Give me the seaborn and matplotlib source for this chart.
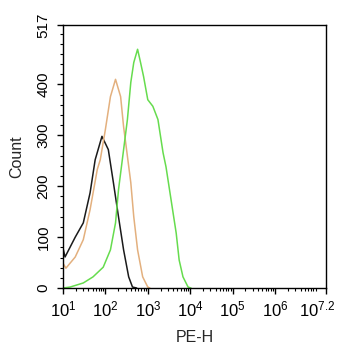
import numpy as np
import pandas as pd
import matplotlib
matplotlib.use('Agg')
import matplotlib.pyplot as plt
import matplotlib.ticker as mticker
import matplotlib.transforms as mtransforms
import seaborn as sns

# log10(PE-H) positions and counts
black_x = [1.0, 1.05, 1.29, 1.48, 1.64, 1.76, 1.92, 2.07, 2.19, 2.31, 2.43, 2.55, 2.64, 2.74]
black_y = [79, 61, 100, 128, 187, 252, 298, 272, 207, 140, 75, 22, 2, 0]

tan_x = [1.0, 1.07, 1.29, 1.48, 1.64, 1.81, 1.88, 2.0, 2.12, 2.24, 2.36, 2.43, 2.5, 2.6, 2.67, 2.76, 2.88, 3.0, 3.05]
tan_y = [49, 39, 61, 95, 154, 233, 252, 311, 376, 410, 376, 317, 272, 207, 140, 75, 22, 2, 0]

green_x = [1.0, 1.17, 1.48, 1.71, 1.95, 2.12, 2.24, 2.31, 2.40, 2.52, 2.6, 2.67, 2.76, 2.83,
           2.9, 3.0, 3.12, 3.24, 3.36, 3.43, 3.55, 3.67, 3.74, 3.83, 3.95, 4.02]
green_y = [0, 2, 10, 22, 41, 75, 128, 193, 252, 331, 404, 443, 469, 443,
           416, 370, 357, 331, 266, 238, 173, 108, 55, 22, 2, 0]

y_ticks = [0, 100, 200, 300, 400, 517]
x_tick_exp = [1, 2, 3, 4, 5, 6, 7.2]
x_tick_labels = ['$10^{1}$', '$10^{2}$', '$10^{3}$', '$10^{4}$', '$10^{5}$', '$10^{6}$', '$10^{7.2}$']

sns.set_style('ticks')
plt.rcParams['font.family'] = ['Liberation Sans', 'DejaVu Sans']
plt.rcParams['mathtext.fontset'] = 'custom'
plt.rcParams['mathtext.rm'] = 'Liberation Sans'
plt.rcParams['mathtext.it'] = 'Liberation Sans'

frames = []
for name, xs, ys in [('black', black_x, black_y), ('tan', tan_x, tan_y), ('green', green_x, green_y)]:
    frames.append(pd.DataFrame({'x': 10 ** np.array(xs), 'y': ys, 'sample': name}))
df = pd.concat(frames, ignore_index=True)

fig = plt.figure(figsize=(3.42, 3.5), dpi=100)
ax = fig.add_axes([0.184, 0.177, 0.769, 0.752])

sns.lineplot(data=df, x='x', y='y', hue='sample', sort=False, estimator=None,
             palette={'black': '#1a1a1a', 'tan': '#e3b07e', 'green': '#66dc4e'},
             linewidth=1.1, legend=False, ax=ax)

ax.set_xscale('log')
ax.set_xlim(10, 10 ** 7.2)
ax.set_ylim(0, 517)

ax.xaxis.set_major_locator(mticker.FixedLocator([10 ** e for e in x_tick_exp]))
ax.xaxis.set_major_formatter(mticker.FixedFormatter(x_tick_labels))
ax.xaxis.set_minor_locator(mticker.LogLocator(base=10, subs=np.arange(2, 10), numticks=20))
ax.xaxis.set_minor_formatter(mticker.NullFormatter())

ax.yaxis.set_major_locator(mticker.FixedLocator(y_ticks))
ax.yaxis.set_minor_locator(mticker.MultipleLocator(20))

for s in ax.spines.values():
    s.set_color('black')
    s.set_linewidth(1.0)

ax.tick_params(axis='both', which='major', direction='out', length=4, width=1, colors='black')
ax.tick_params(axis='both', which='minor', direction='out', length=2, width=0.8, colors='black')
ax.tick_params(axis='y', labelsize=11, pad=5)
ax.tick_params(axis='x', labelsize=12, pad=4)
plt.setp(ax.get_yticklabels(), rotation=90, va='center')

# nudge the last x label left so it stays inside the figure
fig.canvas.draw()
last = ax.get_xticklabels()[-1]
last.set_transform(last.get_transform() + mtransforms.ScaledTranslation(-6 / 72, 0, fig.dpi_scale_trans))

ax.set_xlabel('PE-H', fontsize=11.5, labelpad=8)
ax.set_ylabel('Count', fontsize=11.5, labelpad=9)

fig.savefig('out.png', dpi=100)
